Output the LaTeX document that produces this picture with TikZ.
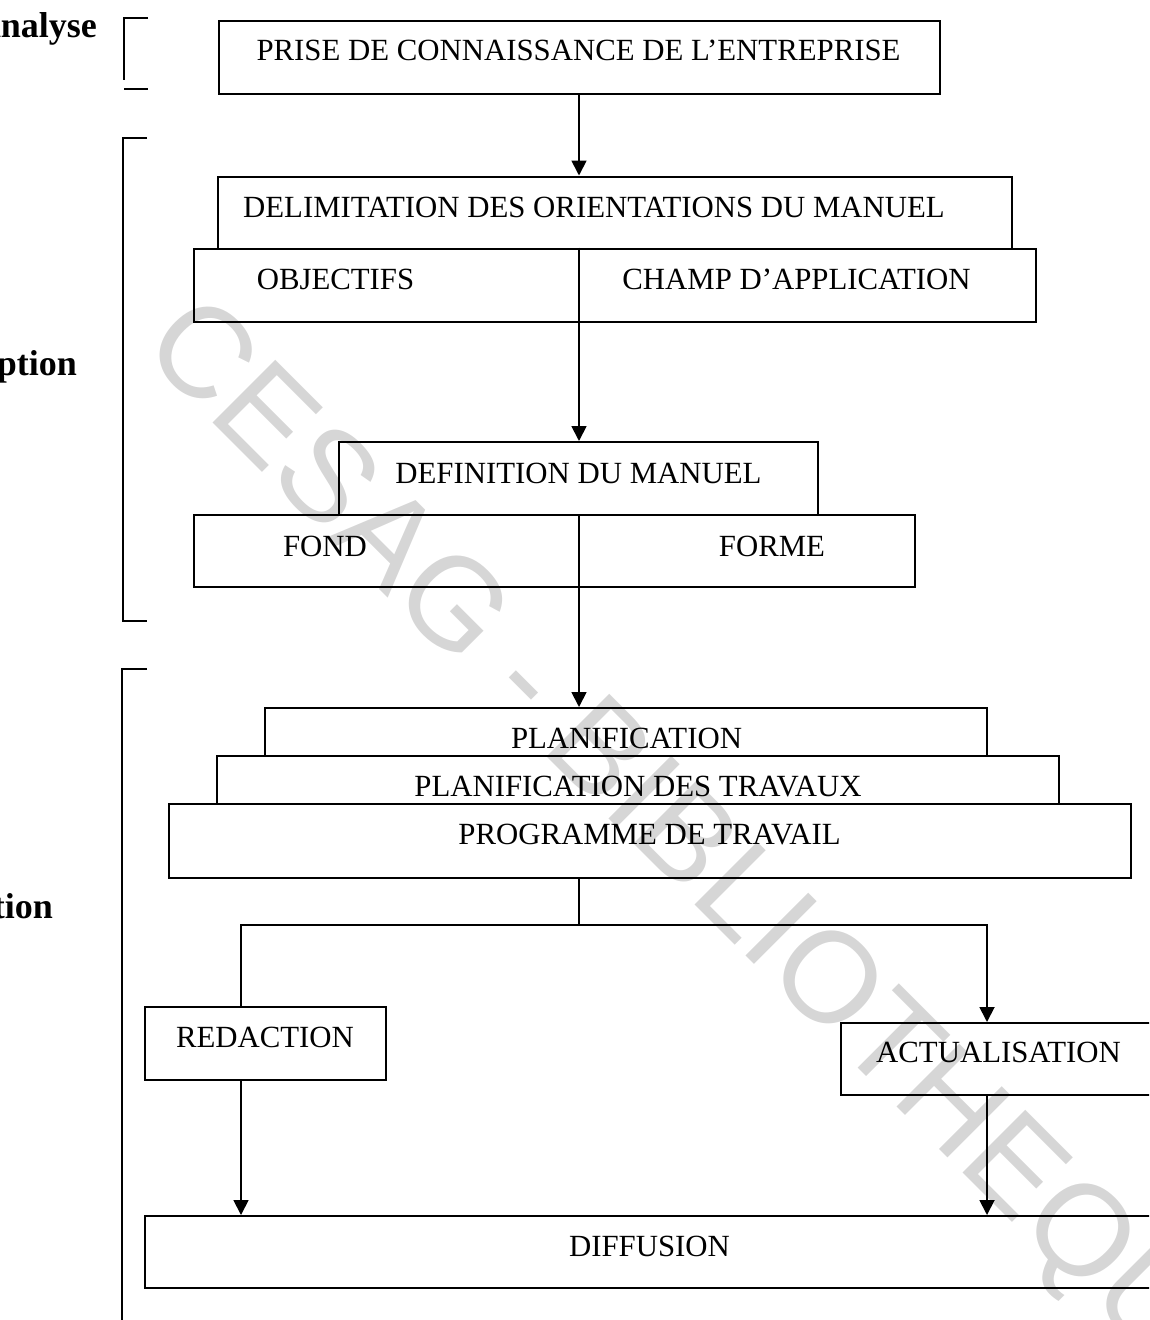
\documentclass[tikz,border=0pt]{standalone}
\usepackage{fontspec}
\setmainfont{Liberation Serif}
\newfontfamily\wmfont{Liberation Sans}
\usetikzlibrary{arrows.meta}

\begin{document}
\begin{tikzpicture}[x=1pt,y=-1pt,
  box/.style={draw, line width=2pt, inner sep=0pt},
  lbl/.style={font=\fontsize{30.8}{36}\selectfont, inner sep=0pt, anchor=base},
  phase/.style={font=\bfseries\fontsize{36}{40}\selectfont, inner sep=0pt, anchor=base east},
  flow/.style={-{Triangle[length=15pt,width=15pt]}, line width=1.8pt},
  link/.style={line width=1.8pt},
  brk/.style={line width=2pt},
  wmark/.style={font=\wmfont\fontsize{129}{129}\selectfont, text=black!16, inner sep=0pt, anchor=base west, rotate=-45}]

\useasboundingbox (0,0) rectangle (1149,1320);
\clip (0,0) rectangle (1149,1320);

% watermark, behind everything
\node[wmark] (wm) at (139.5,349.5) {CESAG - BIBLIOTHEQUE};

% phase labels and their brackets
\node[phase] (ph1) at (97,37) {Analyse};
\node[phase] (ph2) at (77,375) {ption};
\node[phase] (ph3) at (53,918) {tion};

\draw[brk] (148,18) -- (124,18) -- (124,80);
\draw[brk] (124,89) -- (148,89);
\draw[brk] (147,138) -- (123,138) -- (123,621) -- (147,621);
\draw[brk] (147,669) -- (122,669) -- (122,1330);

% boxes
\node[box, minimum width=721pt, minimum height=73pt] (prise) at (579.5,57) {};
\node[box, minimum width=794pt, minimum height=72pt] (delim) at (615,212.5) {};
\node[box, minimum width=842pt, minimum height=73pt] (objrow) at (615,285) {};
\node[box, minimum width=479pt, minimum height=73pt] (defin) at (578.5,478.5) {};
\node[box, minimum width=721pt, minimum height=72pt] (fondrow) at (554.5,551) {};
\node[box, minimum width=722pt, minimum height=48pt] (plan) at (626,732) {};
\node[box, minimum width=842pt, minimum height=48pt] (plantrav) at (638,780) {};
\node[box, minimum width=962pt, minimum height=74pt] (prog) at (650,841) {};
\node[box, minimum width=241pt, minimum height=73pt] (redac) at (265.5,1043.5) {};
\node[box, minimum width=329pt, minimum height=72pt] (actu) at (1005.5,1059) {};
\node[box, minimum width=1025pt, minimum height=72pt] (diff) at (657.5,1252) {};

% texts
\node[lbl] (tprise) at (578.5,60) {PRISE DE CONNAISSANCE DE L’ENTREPRISE};
\node[lbl] (tdelim) at (594,217) {DELIMITATION DES ORIENTATIONS DU MANUEL};
\node[lbl] (tobj) at (335.5,289) {OBJECTIFS};
\node[lbl] (tchamp) at (796.5,289) {CHAMP D’APPLICATION};
\node[lbl] (tdefin) at (578.5,483) {DEFINITION DU MANUEL};
\node[lbl] (tfond) at (325,556) {FOND};
\node[lbl] (tforme) at (772,556) {FORME};
\node[lbl] (tplan) at (626.5,748) {PLANIFICATION};
\node[lbl] (tplantrav) at (638,796) {PLANIFICATION DES TRAVAUX};
\node[lbl] (tprog) at (649.5,844) {PROGRAMME DE TRAVAIL};
\node[lbl] (tredac) at (265,1047) {REDACTION};
\node[lbl] (tactu) at (998.5,1062) {ACTUALISATION};
\node[lbl] (tdiff) at (649.5,1256) {DIFFUSION};

% vertical spine and branch points
\coordinate (spine) at (579,0);
\coordinate (split) at (579,925);
\coordinate (lb) at (241,925);
\coordinate (rb) at (987,925);

% dividers inside the split boxes
\draw[link] (spine |- objrow.north) -- (spine |- objrow.south);
\draw[link] (spine |- fondrow.north) -- (spine |- fondrow.south);

% connectors
\draw[flow] (spine |- prise.south) -- (spine |- delim.north);
\draw[flow] (spine |- objrow.south) -- (spine |- defin.north);
\draw[flow] (spine |- fondrow.south) -- (spine |- plan.north);
\draw[link] (spine |- prog.south) -- (split);
\draw[link] (split) -- (lb) -- (lb |- redac.north);
\draw[flow] (split) -- (rb) -- (rb |- actu.north);
\draw[flow] (lb |- redac.south) -- (lb |- diff.north);
\draw[flow] (rb |- actu.south) -- (rb |- diff.north);
\end{tikzpicture}
\end{document}
